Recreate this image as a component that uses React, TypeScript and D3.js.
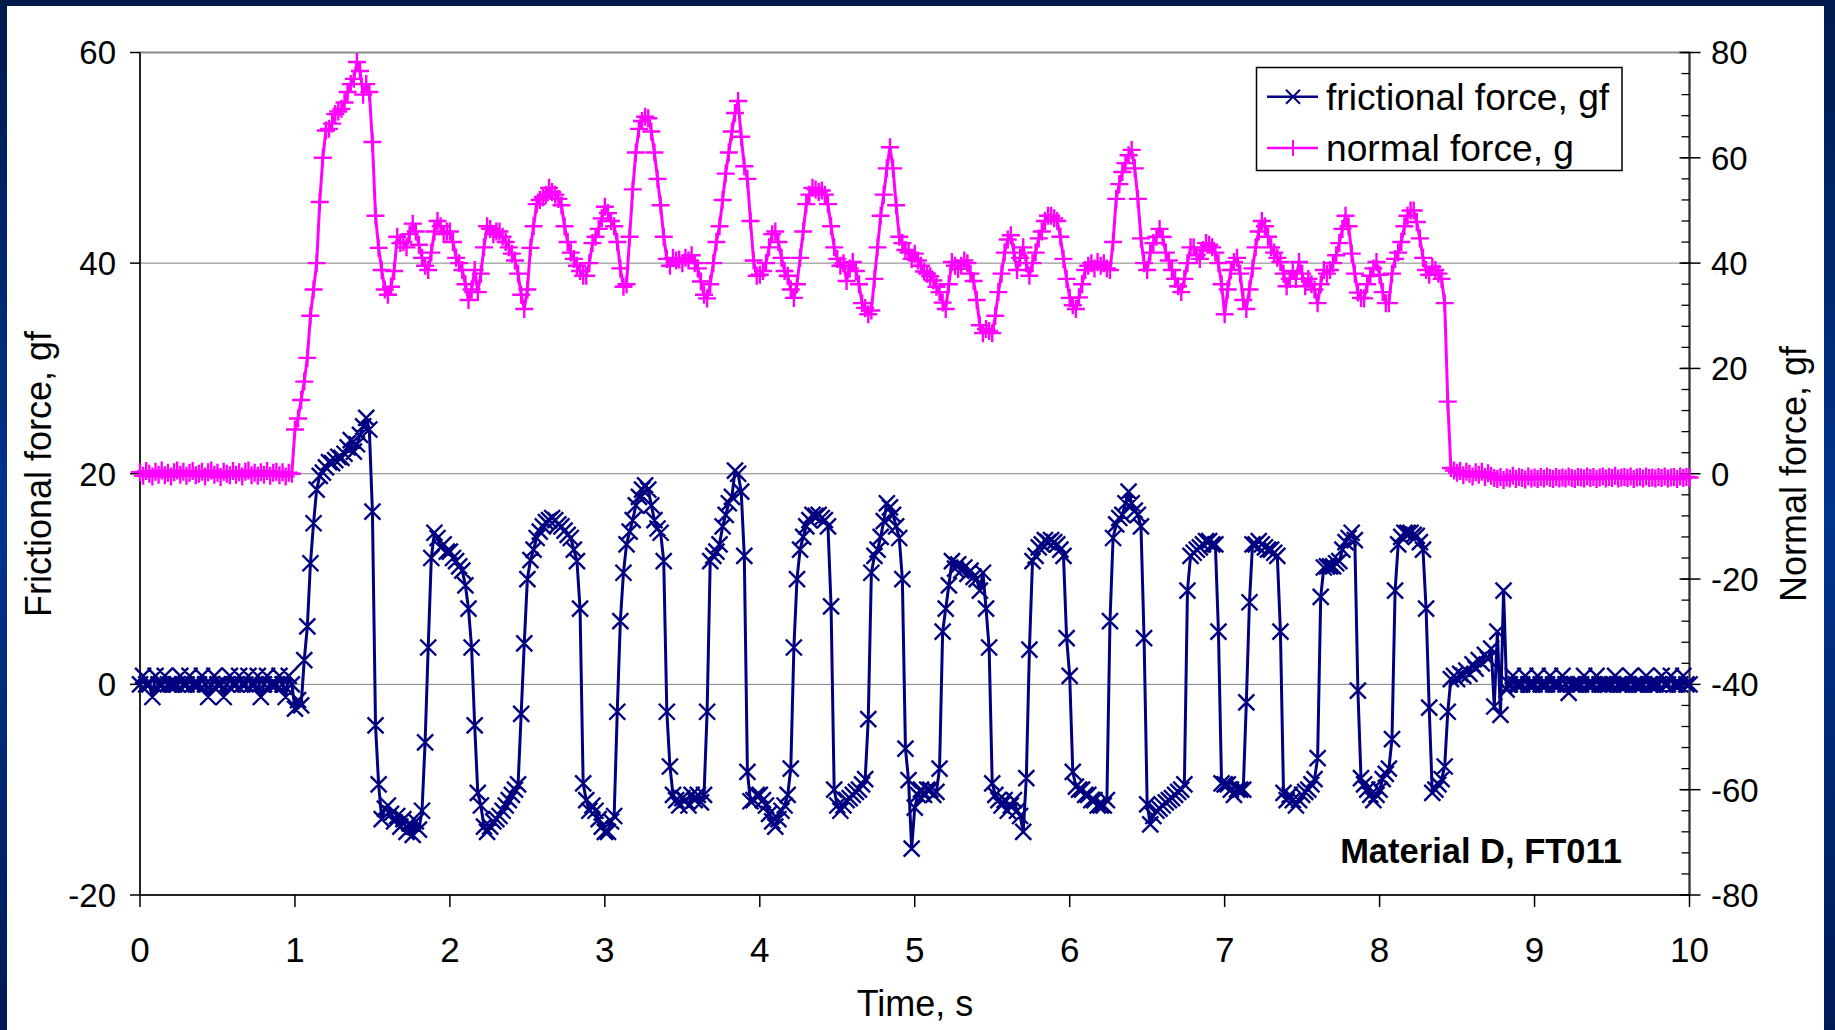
import React from 'react';
import * as d3 from 'd3';

// sampling interval of both series, seconds
const TIME_STEP = 0.02;

// frictional force, gf (left axis), one value per TIME_STEP from 0 s to 10 s
const frictionalForce: number[] = [
  0, 0.8, 0, 0, -1.2, 0.8, 0, 0, 0.8, 0,
  0, 0, 0, 0.8, 0, 0, 0.8, 0, 0, 0,
  0.8, 0, -1.2, 0, 0.8, 0, 0, -1.2, 0, 0.8,
  0, 0, 0.8, 0, 0, 0.8, 0, 0, 0.8, -1.2,
  0, 0.8, 0, 0, 0, 0.8, 0, -1.2, 0.8, 0,
  -2.3, -1.5, -2.0, 2.3, 5.5, 11.5, 15.3, 18.5, 19.8, 20.1,
  20.6, 21.1, 21.0, 21.3, 21.6, 21.5, 21.9, 22.5, 23.2, 22.1,
  22.8, 23.7, 24.5, 25.3, 24.2, 16.4, -3.9, -9.5, -12.8, -11.8,
  -11.5, -12.3, -13.0, -12.5, -13.5, -12.8, -14.0, -13.2, -14.3, -13.0,
  -13.8, -12.0, -5.5, 3.5, 12.0, 14.4, 13.9, 13.0, 13.3, 12.6,
  12.6, 12.0, 11.7, 11.2, 10.8, 9.4, 7.2, 3.5, -3.9, -10.3,
  -11.5, -13.5, -14.0, -13.5, -13.0, -12.8, -12.5, -12.0, -11.5, -11.0,
  -10.5, -10.0, -9.5, -2.8, 3.9, 10.0, 11.8, 12.8, 13.9, 14.5,
  15.0, 15.4, 15.6, 15.8, 15.6, 15.2, 15.0, 14.6, 14.2, 13.9,
  12.8, 11.7, 7.2, -9.4, -11.0, -12.0, -11.5, -12.0, -12.8, -13.5,
  -14.0, -14.0, -13.0, -12.5, -2.6, 6.0, 10.6, 13.3, 14.5, 15.6,
  17.0, 17.8, 18.5, 18.9, 18.5, 17.0, 15.6, 14.8, 14.4, 11.7,
  -2.6, -7.8, -10.5, -11.0, -11.5, -10.8, -11.0, -11.5, -10.5, -11.0,
  -10.5, -11.2, -10.5, -2.6, 11.7, 12.2, 12.6, 13.3, 15.0, 16.1,
  17.2, 17.8, 20.3, 20.0, 18.3, 12.2, -8.3, -11.1, -11.0, -10.5,
  -10.5, -11.0, -11.5, -12.3, -13.0, -13.5, -12.8, -12.0, -11.5, -10.5,
  -8.0, 3.5, 10.0, 12.8, 14.0, 15.0, 15.6, 16.1, 16.0, 16.1,
  15.8, 15.6, 15.0, 7.4, -10.0, -11.5, -12.0, -11.5, -11.0, -10.8,
  -10.5, -10.2, -10.0, -9.5, -9.0, -3.3, 10.6, 12.2, 12.8, 14.0,
  15.5, 17.2, 16.8, 16.1, 15.0, 13.9, 10.0, -6.1, -9.1, -15.6,
  -11.7, -10.5, -10.0, -10.5, -10.0, -10.0, -10.5, -10.2, -8.0, 5.0,
  7.2, 9.4, 11.7, 11.0, 11.4, 10.8, 11.1, 10.5, 10.8, 10.2,
  10.0, 8.9, 10.6, 7.2, 3.5, -9.4, -10.5, -11.0, -11.5, -11.0,
  -12.0, -11.5, -11.0, -12.0, -12.5, -14.0, -8.9, 3.3, 11.7, 12.2,
  13.0, 13.3, 13.7, 13.5, 13.7, 13.5, 13.3, 12.8, 12.2, 4.4,
  0.8, -8.3, -9.7, -10.0, -10.0, -10.5, -10.5, -11.0, -11.0, -11.5,
  -11.5, -11.5, -11.0, 6.0, 13.9, 15.2, 15.8, 16.1, 17.2, 18.3,
  17.2, 16.5, 16.1, 15.0, 4.4, -11.4, -13.3, -12.5, -12.0, -11.8,
  -11.5, -11.2, -11.0, -10.8, -10.5, -10.2, -10.0, -9.5, 8.9, 12.2,
  12.5, 12.8, 13.0, 13.3, 13.6, 13.6, 13.3, 13.3, 5.0, -9.4,
  -9.5, -9.5, -10.0, -10.5, -10.0, -10.0, -10.0, -1.7, 7.8, 13.3,
  13.3, 13.6, 13.3, 13.0, 12.8, 12.8, 12.5, 12.2, 5.0, -10.3,
  -11.0, -10.5, -11.0, -11.5, -11.0, -10.5, -10.2, -10.0, -9.5, -9.0,
  -7.0, 8.3, 11.1, 11.2, 11.2, 11.2, 11.5, 11.7, 12.8, 13.5,
  13.9, 14.4, 13.7, -0.6, -8.9, -9.5, -10.0, -10.5, -11.0, -10.5,
  -10.0, -9.0, -8.5, -8.0, -5.2, 8.9, 13.3, 14.0, 14.4, 14.4,
  14.4, 14.2, 14.1, 13.5, 12.8, 7.2, -2.2, -10.3, -10.0, -9.5,
  -9.0, -7.8, -2.6, 0.5, 0.8, 0.5, 1.0, 0.8, 1.3, 1.0,
  1.9, 1.5, 2.3, 2.0, 2.8, 2.4, 3.4, -2.1, 5.0, -2.9,
  8.9, -0.5, 0, 0.8, 0, 0, 0, 0.8, 0, 0,
  0, 0.8, 0, 0, 0, 0.8, 0, 0, 0, 0.8,
  0, -0.8, 0, 0, 0, 0, 0.8, 0, 0, 0,
  0.8, 0, 0, 0, 0, 0, 0.8, 0, 0, 0,
  0, 0.8, 0, 0, 0, 0, 0.8, 0, 0, 0,
  0, 0.8, 0, 0, 0.8, 0, 0, 0, 0.8, 0,
  0,
];

// normal force, g (right axis), one value per TIME_STEP from 0 s to 10 s
const normalForce: number[] = [
  0.3, -0.4, 0.5, 0, -0.5, 0.4, -0.2, 0.6, -0.3, 0.2,
  -0.5, 0.3, 0.6, -0.2, 0.4, -0.4, 0.2, 0.5, -0.3, 0,
  0.4, -0.5, 0.3, 0.6, -0.2, 0.2, -0.6, 0.4, 0, -0.3,
  0.5, -0.2, 0.3, -0.5, 0.4, 0.6, -0.3, 0.2, -0.4, 0.3,
  -0.2, 0.5, -0.4, 0.2, 0.4, -0.3, 0.3, -0.5, 0.2, 0,
  8.4, 10.5, 14.0, 17.5, 22.0, 30.0, 35.0, 40.0, 51.6, 60.0,
  65.2, 65.5, 66.5, 68.3, 68.8, 69.3, 70.5, 72.5, 74.0, 75.0,
  78.2, 76.5, 72.0, 74.0, 72.5, 63.0, 49.0, 42.9, 38.7, 35.0,
  34.0, 35.5, 38.5, 45.0, 43.8, 44.0, 43.0, 45.5, 47.5, 46.0,
  43.5, 41.0, 39.5, 38.7, 42.0, 46.0, 48.0, 47.0, 45.5, 46.0,
  46.0, 44.0, 41.0, 40.0, 38.7, 36.0, 33.0, 35.0, 38.7, 34.5,
  38.0, 43.0, 47.0, 46.5, 45.5, 46.0, 46.0, 45.0, 44.0, 43.0,
  41.8, 40.5, 38.0, 34.0, 31.3, 35.0, 42.9, 47.0, 51.2, 52.0,
  52.5, 53.0, 54.3, 53.5, 53.0, 52.2, 51.0, 47.0, 44.0, 42.0,
  40.8, 39.5, 38.5, 37.6, 37.6, 40.0, 43.8, 45.0, 46.5, 48.5,
  50.7, 49.5, 48.0, 47.0, 44.0, 39.0, 35.5, 36.0, 45.0, 54.0,
  61.0, 65.5, 67.0, 67.8, 67.5, 65.0, 61.0, 56.0, 51.0, 45.0,
  40.8, 39.5, 41.0, 40.5, 40.7, 40.0, 41.0, 40.5, 41.5, 40.0,
  39.0, 36.5, 34.0, 33.3, 36.0, 40.0, 44.0, 47.0, 52.0, 57.0,
  61.0, 65.0, 68.5, 70.8, 64.0, 58.4, 56.0, 48.0, 40.5, 37.6,
  37.8, 38.5, 40.0, 43.0, 45.5, 46.0, 44.0, 41.0, 38.5, 37.6,
  35.0, 33.4, 36.0, 41.0, 46.0, 51.2, 53.0, 54.3, 54.0, 53.5,
  53.8, 53.0, 51.2, 47.0, 43.0, 40.8, 39.5, 40.0, 36.6, 39.0,
  40.2, 38.5, 36.0, 32.4, 31.5, 30.3, 31.0, 37.0, 43.0, 49.0,
  53.0, 58.0, 62.0, 58.0, 51.0, 45.0, 43.8, 42.5, 42.0, 40.8,
  41.8, 40.5, 39.5, 38.4, 38.0, 37.5, 36.7, 35.5, 34.5, 32.5,
  31.3, 36.0, 40.2, 39.5, 38.9, 39.5, 40.5, 40.0, 38.0, 36.6,
  33.0, 28.2, 26.7, 27.5, 27.1, 26.7, 30.0, 34.5, 38.0, 42.0,
  44.5, 45.3, 42.0, 38.7, 41.0, 43.0, 40.0, 37.6, 40.0, 42.0,
  44.7, 46.0, 48.0, 49.0, 49.0, 48.5, 48.0, 45.0, 40.8, 37.0,
  33.4, 32.0, 31.3, 33.5, 36.0, 38.7, 39.5, 40.0, 39.0, 40.2,
  39.5, 40.0, 39.0, 38.7, 44.0, 52.2, 55.0, 57.3, 59.0, 60.5,
  61.5, 58.0, 52.2, 44.7, 40.0, 38.7, 42.0, 43.8, 45.0, 46.5,
  45.0, 42.0, 40.5, 38.7, 37.0, 35.6, 34.5, 37.0, 40.0, 43.0,
  43.0, 41.5, 40.8, 42.5, 43.8, 43.5, 43.0, 42.0, 40.0, 36.0,
  30.3, 35.0, 38.7, 40.2, 41.0, 38.0, 33.0, 31.3, 35.0, 39.0,
  43.0, 46.0, 48.0, 47.0, 45.0, 43.0, 42.0, 41.0, 40.2, 38.0,
  35.6, 37.0, 38.5, 37.0, 40.2, 38.0, 35.6, 37.0, 36.0, 35.0,
  32.4, 36.0, 38.7, 38.0, 38.7, 40.0, 41.5, 43.8, 46.5, 49.0,
  47.0, 41.8, 38.0, 34.4, 33.4, 33.3, 36.0, 37.6, 39.0, 40.2,
  37.8, 34.5, 32.4, 32.4, 38.0, 40.8, 42.0, 44.0, 47.0, 49.0,
  50.0, 50.0, 47.8, 44.7, 41.0, 38.7, 37.8, 39.3, 38.7, 38.0,
  37.0, 32.4, 13.7, 1.1, 0.6, 0.2, 0.5, -0.3, 0.4, 0,
  -0.5, 0.3, -0.2, 0.4, -0.6, 0.1, -0.4, -0.8, -1.0, -0.6,
  -1.2, -0.7, -0.9, -0.4, -1.0, -0.6, -0.8, -1.1, -0.5, -0.9,
  -0.7, -1.0, -0.6, -0.9, -0.5, -0.8, -1.0, -0.6, -0.9, -0.7,
  -0.9, -0.5, -0.8, -1.0, -0.6, -0.7, -0.9, -0.5, -0.8, -0.6,
  -1.0, -0.7, -0.5, -0.9, -0.6, -0.8, -0.4, -0.9, -0.7, -0.6,
  -0.8, -0.5, -1.0, -0.7, -0.6, -0.9, -0.5, -0.8, -0.7, -0.9,
  -0.6, -0.8, -0.5, -0.9, -0.7, -0.6, -1.0, -0.5, -0.8, -0.6,
  -0.7,
];

const timeTicks = [0, 1, 2, 3, 4, 5, 6, 7, 8, 9, 10];
const frictionTicks = [-20, 0, 20, 40, 60];
const normalTicks = [-80, -60, -40, -20, 0, 20, 40, 60, 80];
const gridValues = [0, 20, 40];

const seriesNames = ['frictional force, gf', 'normal force, g'];
const seriesColors = ['#000080', '#FF00FF'];

const W = 1835;
const H = 1030;
const PL = 140;
const PR = 1689.5;
const PT = 52.5;
const PB = 895;
const FONT = '"Liberation Sans", Arial, Helvetica, sans-serif';

function crossPath(pts: [number, number][], s: number) {
  return pts
    .map(([px, py]) => `M${px - s},${py - s}L${px + s},${py + s}M${px - s},${py + s}L${px + s},${py - s}`)
    .join('');
}
function plusPath(pts: [number, number][], s: number) {
  return pts
    .map(([px, py]) => `M${px - s},${py}L${px + s},${py}M${px},${py - s}L${px},${py + s}`)
    .join('');
}

export default function App() {
  const x = d3.scaleLinear().domain([0, 10]).range([PL, PR]);
  const yL = d3.scaleLinear().domain([-20, 60]).range([PB, PT]);
  const yR = d3.scaleLinear().domain([-80, 80]).range([PB, PT]);
  const minorR = d3.range(-80, 80.01, 4);

  const fPts: [number, number][] = frictionalForce.map((v, i) => [x(i * TIME_STEP), yL(v)]);
  const nPts: [number, number][] = normalForce.map((v, i) => [x(i * TIME_STEP), yR(v)]);
  const line = d3.line<[number, number]>();

  const legX = 1256.5;
  const legY = 67.5;
  const legW = 365.5;
  const legH = 103;
  const rowY = [96.7, 148];

  return (
    <svg
      width={W}
      height={H}
      viewBox={`0 0 ${W} ${H}`}
      style={{ position: 'absolute', left: 0, top: 0, display: 'block' }}
      fontFamily={FONT}
    >
      <defs>
        <linearGradient id="frame" x1="0" y1="0" x2="0" y2="1">
          <stop offset="0" stopColor="#001a4c" />
          <stop offset="0.5" stopColor="#00348e" />
          <stop offset="1" stopColor="#001a55" />
        </linearGradient>
      </defs>
      <rect x={0} y={0} width={W} height={H} fill="url(#frame)" />
      <rect x={7} y={6} width={1817} height={H - 6} fill="#ffffff" />

      {/* gridlines */}
      {gridValues.map((g) => (
        <line key={g} x1={PL} x2={PR} y1={yL(g)} y2={yL(g)} stroke="#808080" strokeWidth={1} />
      ))}
      {/* plot border */}
      <rect x={PL} y={PT} width={PR - PL} height={PB - PT} fill="none" stroke="#8a8a8a" strokeWidth={2} />

      {/* left axis */}
      <line x1={PL} x2={PL} y1={PT} y2={PB} stroke="#000" strokeWidth={1.5} />
      {frictionTicks.map((t) => (
        <g key={t}>
          <line x1={PL - 10} x2={PL} y1={yL(t)} y2={yL(t)} stroke="#000" strokeWidth={1.5} />
          <text x={116} y={yL(t)} dy="0.36em" textAnchor="end" fontSize={33}>
            {t}
          </text>
        </g>
      ))}

      {/* bottom axis */}
      <line x1={PL} x2={PR} y1={PB} y2={PB} stroke="#000" strokeWidth={1.5} />
      {timeTicks.map((t) => (
        <g key={t}>
          <line x1={x(t)} x2={x(t)} y1={PB} y2={PB + 12} stroke="#000" strokeWidth={1.5} />
          <text x={x(t)} y={962} textAnchor="middle" fontSize={35}>
            {t}
          </text>
        </g>
      ))}

      {/* right axis */}
      <line x1={PR} x2={PR} y1={PT} y2={PB} stroke="#333" strokeWidth={2} />
      {minorR.map((t) => (
        <line key={'m' + t} x1={PR - 8} x2={PR} y1={yR(t)} y2={yR(t)} stroke="#000" strokeWidth={1.3} />
      ))}
      {normalTicks.map((t) => (
        <g key={t}>
          <line x1={PR - 10} x2={PR + 11} y1={yR(t)} y2={yR(t)} stroke="#000" strokeWidth={1.5} />
          <text x={1711} y={yR(t)} dy="0.36em" textAnchor="start" fontSize={33}>
            {t}
          </text>
        </g>
      ))}

      {/* frictional force series */}
      <path d={line(fPts) || ''} fill="none" stroke={seriesColors[0]} strokeWidth={3} strokeLinejoin="round" />
      <path d={crossPath(fPts, 8)} fill="none" stroke={seriesColors[0]} strokeWidth={2.4} />

      {/* normal force series */}
      <path d={line(nPts) || ''} fill="none" stroke={seriesColors[1]} strokeWidth={3} strokeLinejoin="round" />
      <path d={plusPath(nPts, 9)} fill="none" stroke={seriesColors[1]} strokeWidth={2.4} />

      {/* legend */}
      <rect x={legX} y={legY} width={legW} height={legH} fill="#ffffff" stroke="#000" strokeWidth={1.5} />
      {seriesNames.map((name, i) => (
        <g key={name}>
          <line x1={1267} x2={1318} y1={rowY[i]} y2={rowY[i]} stroke={seriesColors[i]} strokeWidth={2.5} />
          <path
            d={i === 0 ? crossPath([[1293, rowY[i]]], 7) : plusPath([[1293, rowY[i]]], 8)}
            fill="none"
            stroke={seriesColors[i]}
            strokeWidth={2}
          />
          <text x={1326} y={rowY[i]} dy="0.36em" fontSize={37.2}>
            {name}
          </text>
        </g>
      ))}

      {/* annotation */}
      <text x={1622} y={863} textAnchor="end" fontSize={34.5} fontWeight="bold">
        Material D, FT011
      </text>

      {/* axis titles */}
      <text x={915} y={1016} textAnchor="middle" fontSize={36}>
        Time, s
      </text>
      <text transform={`translate(51,474) rotate(-90)`} textAnchor="middle" fontSize={36}>
        Frictional force, gf
      </text>
      <text transform={`translate(1806,474) rotate(-90)`} textAnchor="middle" fontSize={36}>
        Normal force, gf
      </text>
    </svg>
  );
}
